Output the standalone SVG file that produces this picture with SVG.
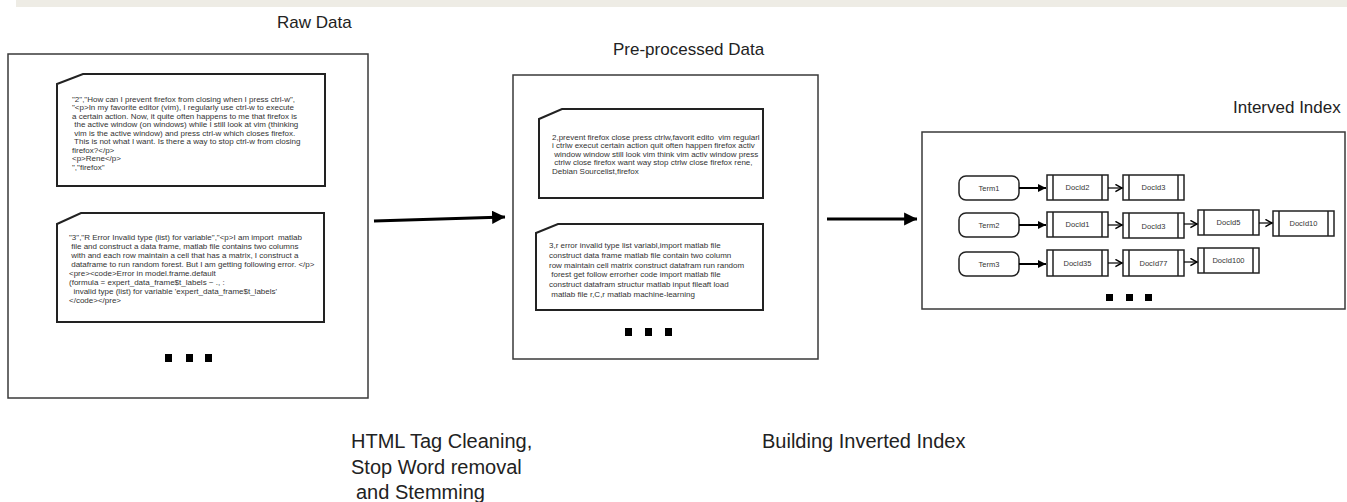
<svg xmlns="http://www.w3.org/2000/svg" width="1347" height="502" viewBox="0 0 1347 502">
<style>
.panel{fill:#fff;stroke:#3a3a3a;stroke-width:1.5}
.card{fill:#fff;stroke:#222;stroke-width:2}
.title{font-family:"Liberation Sans",Arial,sans-serif;font-size:17px;fill:#222}
.label{font-family:"Liberation Sans",Arial,sans-serif;font-size:20px;fill:#222}
.ct{font-family:"Liberation Sans",Arial,sans-serif;font-size:8px;fill:#333;white-space:pre}
.nt{font-family:"Liberation Sans",Arial,sans-serif;font-size:7.5px;fill:#333;text-anchor:middle}
.term{fill:#fff;stroke:#222;stroke-width:1.5}
.doc{fill:#fff;stroke:#222;stroke-width:1.5}
.big{stroke:#000;stroke-width:3;fill:none}
.thick{stroke:#000;stroke-width:2;fill:none}
.thin{stroke:#000;stroke-width:1.2;fill:none}
.dot{fill:#000}
</style>
<defs>
<marker id="bigHead" markerWidth="5" markerHeight="5" refX="4.3" refY="2.2" orient="auto" markerUnits="strokeWidth">
<path d="M0,0 L4.4,2.2 L0,4.4 Z" fill="#000"/>
</marker>
<marker id="midHead" markerWidth="5" markerHeight="5" refX="4" refY="2" orient="auto" markerUnits="strokeWidth">
<path d="M0,0 L4,2 L0,4 Z" fill="#000"/>
</marker>
<marker id="openHead" markerWidth="8" markerHeight="8" refX="5.5" refY="3" orient="auto" markerUnits="strokeWidth">
<path d="M0,0 L5.5,3 L0,6" fill="none" stroke="#000" stroke-width="1.2"/>
</marker>
</defs>
<rect x="16" y="0" width="1331" height="7" fill="#eeece5"/>

<g id="raw-data">
<text class="title" x="277" y="28">Raw Data</text>
<rect class="panel" x="8" y="54" width="360" height="344"/>
<g id="raw-card-1">
<path class="card" d="M57,84 L83,74 L325,74 L325,186 L57,186 Z"/>
<text class="ct" x="72" y="101.5">"2","How can I prevent firefox from closing when I press ctrl-w",</text>
<text class="ct" x="72" y="110">"&lt;p&gt;In my favorite editor (vim), I regularly use ctrl-w to execute</text>
<text class="ct" x="72" y="118.5">a certain action. Now, it quite often happens to me that firefox is</text>
<text class="ct" x="72" y="127"> the active window (on windows) while I still look at vim (thinking</text>
<text class="ct" x="72" y="135.5"> vim is the active window) and press ctrl-w which closes firefox.</text>
<text class="ct" x="72" y="144"> This is not what I want. Is there a way to stop ctrl-w from closing</text>
<text class="ct" x="72" y="152.5">firefox?&lt;/p&gt;</text>
<text class="ct" x="72" y="161">&lt;p&gt;Rene&lt;/p&gt;</text>
<text class="ct" x="72" y="169.5">","firefox"</text>
</g>
<g id="raw-card-2">
<path class="card" d="M57,224 L81,213 L324,213 L324,322 L57,322 Z"/>
<text class="ct" x="69" y="239.5">"3","R Error Invalid type (list) for variable","&lt;p&gt;I am import  matlab</text>
<text class="ct" x="69" y="248.5"> file and construct a data frame, matlab file contains two columns</text>
<text class="ct" x="69" y="257.5"> with and each row maintain a cell that has a matrix, I construct a</text>
<text class="ct" x="69" y="266.5"> dataframe to run random forest. But I am getting following error. &lt;/p&gt;</text>
<text class="ct" x="69" y="275.5">&lt;pre&gt;&lt;code&gt;Error in model.frame.default</text>
<text class="ct" x="69" y="284.5">(formula = expert_data_frame$t_labels ~ ., :</text>
<text class="ct" x="69" y="293.5">  invalid type (list) for variable 'expert_data_frame$t_labels'</text>
<text class="ct" x="69" y="302.5">&lt;/code&gt;&lt;/pre&gt;</text>
</g>
<rect class="dot" x="165" y="354" width="7" height="8"/>
<rect class="dot" x="186" y="354" width="7" height="8"/>
<rect class="dot" x="205" y="354" width="7" height="8"/>
</g>

<g id="preprocessed-data">
<text class="title" x="613" y="55">Pre-processed Data</text>
<rect class="panel" x="513" y="75" width="305" height="284"/>
<g id="pre-card-1">
<path class="card" d="M539,119 L562,109 L763,109 L763,198 L539,198 Z"/>
<text class="ct" x="552" y="139.5">2,prevent firefox close press ctrlw,favorit edito  vim regularl</text>
<text class="ct" x="552" y="148">i ctrlw execut certain action quit often happen firefox activ</text>
<text class="ct" x="552" y="156.5"> window window still look vim think vim activ window press</text>
<text class="ct" x="552" y="165"> ctrlw close firefox want way stop ctrlw close firefox rene,</text>
<text class="ct" x="552" y="173.5">Debian Sourcelist,firefox</text>
</g>
<g id="pre-card-2">
<path class="card" d="M536,233 L558,224 L763,224 L763,310 L536,310 Z"/>
<text class="ct" x="549" y="247.5">3,r error invalid type list variabl,import matlab file</text>
<text class="ct" x="549" y="257.5">construct data frame matlab file contain two column</text>
<text class="ct" x="549" y="267.5">row maintain cell matrix construct datafram run random</text>
<text class="ct" x="549" y="276.5"> forest get follow errorher code import matlab file</text>
<text class="ct" x="549" y="286.5">construct datafram structur matlab input fileaft load</text>
<text class="ct" x="549" y="297"> matlab file r,C,r matlab machine-learning</text>
</g>
<rect class="dot" x="625" y="328" width="7" height="8"/>
<rect class="dot" x="645" y="328" width="7" height="8"/>
<rect class="dot" x="665" y="328" width="7" height="8"/>
</g>

<g id="inverted-index">
<text class="title" x="1233" y="113">Interved Index</text>
<rect class="panel" x="922" y="132" width="423" height="177"/>
<g id="term1"><rect class="term" x="959" y="176" width="60" height="24" rx="7"/><text class="nt" x="989" y="190.5">Term1</text></g>
<g id="term2"><rect class="term" x="959" y="213" width="60" height="24" rx="7"/><text class="nt" x="989" y="227.5">Term2</text></g>
<g id="term3"><rect class="term" x="959" y="252" width="60" height="24" rx="7"/><text class="nt" x="989" y="266.5">Term3</text></g>

<g id="r1-docid2"><rect class="doc" x="1047" y="175" width="61" height="25"/><path class="doc" d="M1053,175 V200 M1102,175 V200"/><text class="nt" x="1077.5" y="190">DocId2</text></g>
<g id="r1-docid3"><rect class="doc" x="1123" y="175" width="61" height="25"/><path class="doc" d="M1129,175 V200 M1178,175 V200"/><text class="nt" x="1153.5" y="190">DocId3</text></g>

<g id="r2-docid1"><rect class="doc" x="1047" y="212" width="61" height="25"/><path class="doc" d="M1053,212 V237 M1102,212 V237"/><text class="nt" x="1077.5" y="227">DocId1</text></g>
<g id="r2-docid3"><rect class="doc" x="1123" y="213" width="61" height="25"/><path class="doc" d="M1129,213 V238 M1178,213 V238"/><text class="nt" x="1153.5" y="228.5">DocId3</text></g>
<g id="r2-docid5"><rect class="doc" x="1198" y="210" width="61" height="25"/><path class="doc" d="M1204,210 V235 M1253,210 V235"/><text class="nt" x="1228.5" y="225">DocId5</text></g>
<g id="r2-docid10"><rect class="doc" x="1273" y="211" width="61" height="25"/><path class="doc" d="M1279,211 V236 M1328,211 V236"/><text class="nt" x="1303.5" y="226">DocId10</text></g>

<g id="r3-docid35"><rect class="doc" x="1047" y="250" width="61" height="26"/><path class="doc" d="M1053,250 V276 M1102,250 V276"/><text class="nt" x="1077.5" y="265.5">DocId35</text></g>
<g id="r3-docid77"><rect class="doc" x="1123" y="250" width="61" height="26"/><path class="doc" d="M1129,250 V276 M1178,250 V276"/><text class="nt" x="1153.5" y="265.5">DocId77</text></g>
<g id="r3-docid100"><rect class="doc" x="1198" y="248" width="61" height="25"/><path class="doc" d="M1204,248 V273 M1253,248 V273"/><text class="nt" x="1228.5" y="263">DocId100</text></g>

<rect class="dot" x="1106" y="294" width="7" height="7"/>
<rect class="dot" x="1126" y="294" width="7" height="7"/>
<rect class="dot" x="1145" y="294" width="7" height="7"/>
</g>

<g id="connectors">
<line class="big" x1="374" y1="221" x2="505" y2="217" marker-end="url(#bigHead)"/>
<line class="big" x1="827" y1="219" x2="917" y2="219" marker-end="url(#bigHead)"/>
<line class="thick" x1="1019" y1="188" x2="1046" y2="188" marker-end="url(#midHead)"/>
<line class="thick" x1="1019" y1="225" x2="1046" y2="225" marker-end="url(#midHead)"/>
<line class="thick" x1="1019" y1="264" x2="1046" y2="264" marker-end="url(#midHead)"/>
<line class="thin" x1="1108" y1="188" x2="1122" y2="188" marker-end="url(#openHead)"/>
<line class="thin" x1="1108" y1="225" x2="1122" y2="225" marker-end="url(#openHead)"/>
<line class="thin" x1="1184" y1="224" x2="1197" y2="224" marker-end="url(#openHead)"/>
<line class="thin" x1="1259" y1="223" x2="1272" y2="223" marker-end="url(#openHead)"/>
<line class="thin" x1="1108" y1="263" x2="1122" y2="263" marker-end="url(#openHead)"/>
<line class="thin" x1="1184" y1="262" x2="1197" y2="262" marker-end="url(#openHead)"/>
</g>

<g id="labels">
<text class="label" x="351" y="448">HTML Tag Cleaning,</text>
<text class="label" x="351" y="474">Stop Word removal</text>
<text class="label" x="356" y="499">and Stemming</text>
<text class="label" x="762" y="448">Building Inverted Index</text>
</g>
</svg>
